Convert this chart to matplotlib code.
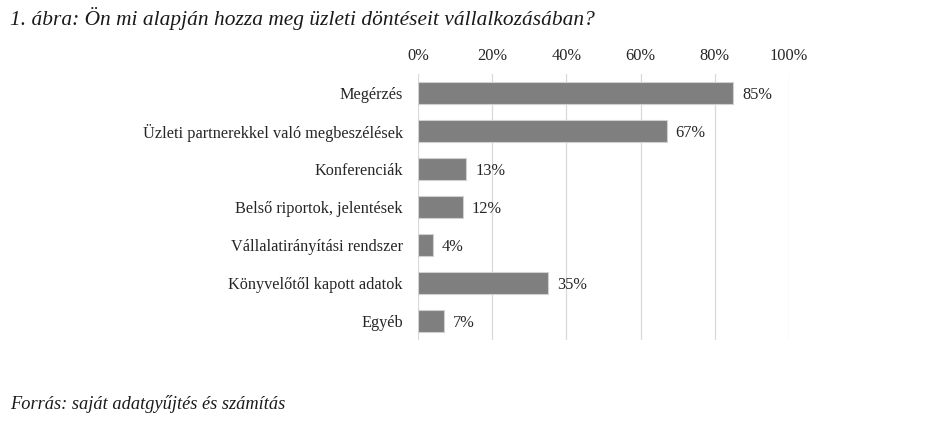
import matplotlib
matplotlib.use("Agg")
import matplotlib.pyplot as plt
from matplotlib.ticker import PercentFormatter

categories = ["Megérzés", "Üzleti partnerekkel való megbeszélések", "Konferenciák",
              "Belső riportok, jelentések", "Vállalatirányítási rendszer",
              "Könyvelőtől kapott adatok", "Egyéb"]
values = [85, 67, 13, 12, 4, 35, 7]
xticks = [0, 20, 40, 60, 80, 100]
title = "1. ábra: Ön mi alapján hozza meg üzleti döntéseit vállalkozásában?"
source = "Forrás: saját adatgyűjtés és számítás"

plt.rcParams['font.family'] = ['Liberation Serif', 'DejaVu Serif']

fig = plt.figure(figsize=(9.26, 4.30), dpi=100)
ax = fig.add_axes([418/926, 1-340/430, (789-418)/926, (340-74)/430])

y = list(range(len(categories)))
ax.barh(y, values, height=0.58, color="#7f7f80", edgecolor="#d0d0d0", linewidth=0.8, zorder=2)
for yi, v in zip(y, values):
    ax.text(v + 2.4, yi + 0.05, f"{v}%", va="center", ha="left", fontsize=11.8, color="#262626")

ax.set_ylim(len(categories) - 0.5, -0.5)
ax.set_xlim(0, 100)
ax.set_yticks(y)
ax.set_yticklabels(categories, fontsize=11.7, color="#262626")
ax.set_xticks(xticks)
ax.xaxis.set_major_formatter(PercentFormatter(decimals=0))
ax.xaxis.tick_top()
ax.tick_params(axis="x", length=0, labelsize=11.8, labelcolor="#262626", pad=7)
ax.tick_params(axis="y", length=0, pad=11)
for s in ax.spines.values():
    s.set_visible(False)
ax.grid(axis="x", color="#d9d9d9", linewidth=0.9, zorder=0)
ax.set_axisbelow(True)

fig.text(10/926, 1-18/430, title, fontsize=15.4, style="italic", ha="left", va="center", color="#1a1a1a")
fig.text(10/926, 1-404/430, source, fontsize=13.2, style="italic", ha="left", va="center", color="#1a1a1a")

fig.savefig("out.png", dpi=100)
